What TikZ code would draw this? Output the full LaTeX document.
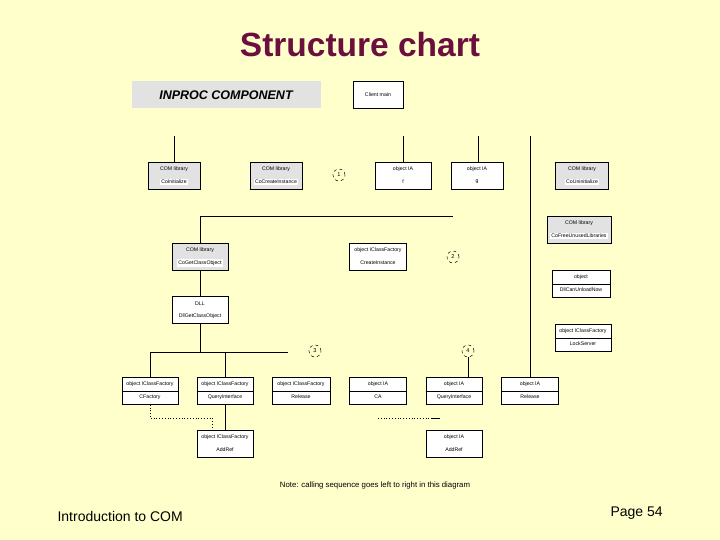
\documentclass[tikz,border=0pt]{standalone}
\usepackage{fontspec}
\setmainfont{Liberation Sans}
\definecolor{bgyel}{HTML}{FFFFCC}
\definecolor{titlec}{HTML}{6B0F3F}
\definecolor{boxgray}{HTML}{E2E2E2}
\tikzset{
  gbox/.style={draw=black, line width=0.6pt, fill=boxgray, minimum height=27pt, inner sep=0pt},
  wbox/.style={draw=black, line width=0.6pt, fill=white, minimum height=27pt, inner sep=0pt},
  btxt/.style={font=\fontsize{5.2}{6}\selectfont, inner sep=0.8pt},
  conn/.style={line width=0.8pt},
  dotc/.style={line width=0.8pt, dotted},
  numc/.style={circle, draw=black, dashed, line width=0.5pt, minimum size=12pt, inner sep=0pt, font=\fontsize{5.6}{6}\selectfont}
}
\newcommand\grayblk[6]{%
  \node[gbox, minimum width=#4pt] (#1) at (#2,#3) {};
  \node[btxt] (#1-t) at ([yshift=6.5pt]#1.center) {#5};
  \node[btxt, fill=white, inner sep=1.2pt] (#1-b) at ([yshift=-6pt]#1.center) {#6};}
\newcommand\objblk[6]{%
  \node[wbox, minimum width=#4pt] (#1) at (#2,#3) {};
  \node[btxt] (#1-t) at ([yshift=6.5pt]#1.center) {#5};
  \node[btxt] (#1-b) at ([yshift=-6pt]#1.center) {#6};}
\newcommand\divblk[6]{%
  \objblk{#1}{#2}{#3}{#4}{#5}{#6}
  \draw[line width=0.6pt] (#1.west) -- (#1.east);}
\begin{document}
\begin{tikzpicture}[x=1pt,y=-1pt]
\useasboundingbox (0,0) rectangle (720,540);
\fill[bgyel] (0,0) rectangle (720,540);
% title
\node[font=\fontsize{33.5}{36}\selectfont\bfseries, text=titlec] (title) at (360,45) {Structure chart};
% INPROC component
\node[fill=boxgray, minimum width=189pt, minimum height=27pt, font=\fontsize{12.5}{14}\selectfont\bfseries\itshape] (inproc) at (226,95) {INPROC COMPONENT};
\node[wbox, minimum width=50pt, btxt] (cmain) at (378,95) {Client main};
% row 1
\grayblk{b1}{174}{176}{52}{COM library}{CoInitialize}
\grayblk{b2}{276}{176}{52}{COM library}{CoCreateInstance}
\node[numc] (c1) at (339,175) {1};
\objblk{b3}{403}{176}{56}{object IA}{f}
\objblk{b4}{477}{176}{52}{object IA}{g}
\grayblk{b5}{582}{176}{53}{COM library}{CoUninitialize}
% row 2
\grayblk{b6}{200}{257}{56}{COM library}{CoGetClassObject}
\objblk{b7}{200}{310}{56}{DLL}{DllGetClassObject}
\objblk{b8}{378}{257}{57}{object IClassFactory}{CreateInstance}
\node[numc] (c2) at (453,257) {2};
\grayblk{b9}{579}{230}{64}{COM library}{CoFreeUnusedLibraries}
\divblk{b10}{581}{284}{58}{object}{DllCanUnloadNow}
\divblk{b11}{583}{338}{56}{object IClassFactory}{LockServer}
\node[numc] (c3) at (315,351) {3};
\node[numc] (c4) at (468,351) {4};
% row 3
\divblk{b12}{150}{391}{56}{object IClassFactory}{CFactory}
\divblk{b13}{225}{391}{56}{object IClassFactory}{QueryInterface}
\divblk{b14}{301}{391}{58}{object IClassFactory}{Release}
\divblk{b15}{378}{391}{57}{object IA}{CA}
\divblk{b16}{454}{391}{56}{object IA}{QueryInterface}
\divblk{b17}{530}{391}{57}{object IA}{Release}
% row 4
\objblk{b18}{225}{444}{56}{object IClassFactory}{AddRef}
\objblk{b19}{454}{444}{56}{object IA}{AddRef}
% coordinates for free ends
\coordinate (t1) at (174,136);
\coordinate (t3) at (403,136);
\coordinate (t4) at (478,136);
\coordinate (t5) at (530,136);
\coordinate (h2) at (453,216);
\coordinate (j3r) at (288,352);
\coordinate (d1) at (212,418);
\coordinate (d2) at (378,418);
\coordinate (d3) at (432,418);
\coordinate (d4) at (440,418);
% connectors
\draw[conn] (t1) -- (b1.north);
\draw[conn] (t3) -- (b3.north);
\draw[conn] (t4) -- (t4 |- b4.north);
\draw[conn] (t5) -- (b17.north);
\draw[conn] (h2) -| (b6.north);
\draw[conn] (b6.south) -- (b7.north);
\draw[conn] (b7.south) -- (b7.south |- j3r);
\draw[conn] (b12.north) |- (j3r);
\draw[conn] (b13.north) -- (b13.north |- j3r);
\draw[conn] (c4.south) -- (c4.south |- b16.north);
\draw[conn] (b13.south) -- (b18.north);
\draw[dotc] (b12.south) |- (d1) -- (d1 |- b18.north);
\draw[dotc] (d2) -- (d3);
\draw[conn] (d3) -- (d4);
% note and footer
\node[font=\fontsize{7.8}{9}\selectfont] (note) at (375,485) {Note: calling sequence goes left to right in this diagram};
\node[font=\fontsize{14}{16}\selectfont, anchor=west] (foot) at (54,516) {Introduction to COM};
\node[font=\fontsize{14}{16}\selectfont, anchor=west] (page) at (607,513) {Page 54};
\end{tikzpicture}
\end{document}
